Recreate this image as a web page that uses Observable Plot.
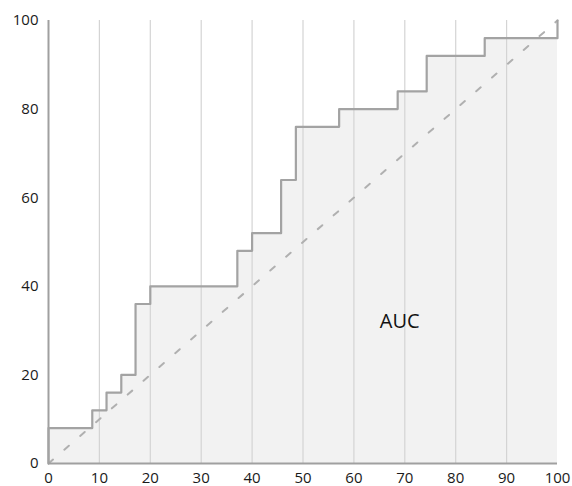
<!DOCTYPE html>
<html>
<head>
<meta charset="utf-8">
<script src="https://cdn.jsdelivr.net/npm/d3@7"></script>
<script src="https://cdn.jsdelivr.net/npm/@observablehq/plot@0.6"></script>
<style>
  html, body { margin: 0; padding: 0; background: #fff; }
  #chart svg { display: block; }
</style>
</head>
<body>
<div id="chart"></div>
<script>
// False positive rate (%) and true positive rate (%) at each step of the curve
const fpr = [0, 0, 8.6, 11.4, 14.3, 17.1, 20, 37.1, 40, 45.7, 48.6, 57.1, 68.6, 74.3, 85.7, 100];
const tpr = [0, 8, 12, 16, 20, 36, 40, 48, 52, 64, 76, 80, 84, 92, 96, 100];
const xTicks = [0, 10, 20, 30, 40, 50, 60, 70, 80, 90, 100];
const yTicks = [0, 20, 40, 60, 80, 100];
const gridX = [10, 20, 30, 40, 50, 60, 70, 80, 90];
const diagonal = [0, 100];
const labelText = "AUC";
const labelPos = {x: 69, y: 32};

const curve = fpr.map((x, i) => ({x, y: tpr[i]}));
const diag = diagonal.map(v => ({x: v, y: v}));

const chart = Plot.plot({
  width: 572,
  height: 486,
  marginLeft: 48,
  marginRight: 15,
  marginTop: 20,
  marginBottom: 23,
  style: {fontFamily: "'Open Sans', sans-serif", fontSize: "15px", color: "#1a1a1a", background: "#fff"},
  x: {domain: [0, 100], ticks: xTicks, label: null, tickSize: 0, tickPadding: 9},
  y: {domain: [0, 100], ticks: yTicks, label: null, tickSize: 0, tickPadding: 10},
  marks: [
    Plot.areaY(curve, {x: "x", y: "y", curve: "step-after", fill: "#f2f2f2"}),
    Plot.ruleX(gridX, {stroke: "#d4d4d4", strokeWidth: 1.2}),
    Plot.line(diag, {x: "x", y: "y", stroke: "#b0b0b0", strokeWidth: 2, strokeDasharray: "6,15"}),
    Plot.ruleX([0], {stroke: "#a0a0a0", strokeWidth: 2}),
    Plot.line(curve, {x: "x", y: "y", curve: "step-after", stroke: "#a3a3a3", strokeWidth: 2.2}),
    Plot.ruleY([0], {stroke: "#a0a0a0", strokeWidth: 2}),
    Plot.text([labelPos], {x: "x", y: "y", text: () => labelText, fontSize: 20, fill: "#111"}),
    Plot.axisX({ticks: xTicks, tickSize: 0, tickPadding: 9, fontSize: 15}),
    Plot.axisY({ticks: yTicks, tickSize: 0, tickPadding: 10, fontSize: 15})
  ]
});
document.getElementById("chart").appendChild(chart);
</script>
</body>
</html>
